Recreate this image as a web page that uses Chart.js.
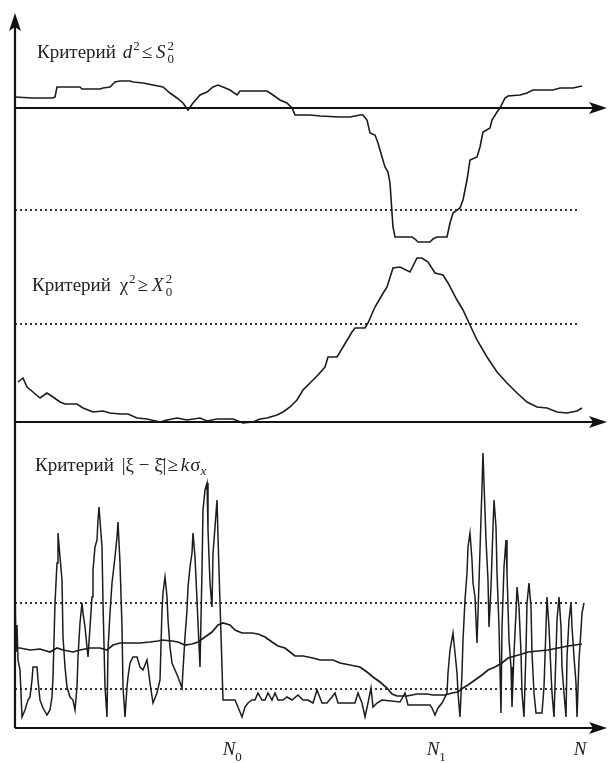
<!DOCTYPE html>
<html lang="ru">
<head>
<meta charset="UTF-8">
<title>Критерии</title>
<script src="https://cdn.jsdelivr.net/npm/chart.js"></script>
<style>
  html, body { margin: 0; padding: 0; background: #fff; }
  #wrap { width: 609px; height: 763px; }
</style>
</head>
<body>
<div id="wrap"><canvas id="chart"></canvas></div>
<script>
// x runs from 0 to N (=567), readings taken off the figure
const tickValues = [214, 418, 565];
const tickSubs = ['0', '1', ''];

// criterion d^2 <= S0^2 (top panel, 0 = axis)
const topX = [0,17,38,40,42,65,67,85,88,95,100,105,115,118,128,138,148,155,162,168,173,178,185,192,198,203,208,215,222,225,252,258,265,272,277,280,295,305,325,335,345,348,352,355,360,363,367,370,373,375,377,378,380,397,400,403,415,418,422,432,435,438,445,448,452,455,462,465,468,475,477,482,485,490,493,505,512,518,538,545,558,567];
const topY = [11,10,10,11,21,21,19,19,20,21,26,27,27,26,25,23,21,15,10,5,-2,5,13,16,21,23,21,18,13,17,17,13,8,5,0,-7,-7,-8,-9,-9,-7,-7,-12,-25,-27,-35,-49,-59,-64,-75,-105,-119,-129,-129,-131,-134,-134,-131,-129,-129,-115,-105,-100,-92,-72,-52,-49,-39,-24,-20,-12,-4,0,10,12,13,15,18,18,20,20,22];
const topLimit = -102;

// criterion chi^2 >= X0^2 (middle panel)
const midX = [3,8,12,18,25,32,38,45,50,62,68,78,88,95,105,113,122,132,145,152,162,172,185,192,202,218,228,238,245,252,262,268,275,282,288,295,303,310,313,322,328,337,340,350,353,360,367,372,378,385,395,402,407,413,420,428,433,442,448,455,462,472,482,492,502,512,522,532,542,552,562,567];
const midY = [40,44,35,30,24,29,25,20,18,18,14,10,11,9,8,8,4,3,0,2,4,2,4,1,3,3,-1,0,3,4,7,10,15,22,32,39,47,55,65,65,75,90,94,94,99,115,127,135,154,155,150,164,164,160,149,147,139,122,112,97,82,65,50,39,29,20,15,14,10,9,11,14];
const midLimit = 98;

// criterion |xi - mean| >= k*sigma (bottom panel): raw signal
const noiseX = [
  0,1,2,3,5,7,10,13,15,17,
  18,22,23,25,28,32,35,37,38,40,
  42,43,45,47,48,50,52,55,58,60,
  62,63,65,67,68,70,72,73,75,77,
  78,80,82,83,84,87,88,90,92,93,
  95,97,100,102,103,105,107,108,110,112,
  113,115,118,122,125,128,132,133,135,138,
  142,145,147,148,150,152,153,155,157,160,
  163,167,168,170,172,173,175,177,178,180,
  182,183,185,187,188,190,192,193,195,197,
  198,200,202,203,205,207,208,220,223,227,
  230,233,237,240,243,247,250,253,257,260,
  263,268,272,277,283,288,293,298,302,307,
  312,317,320,323,340,343,347,350,353,356,
  358,362,367,385,390,393,415,417,420,423,
  427,432,433,435,438,440,442,443,445,447,
  448,450,452,453,455,457,458,460,462,463,
  465,467,468,469,471,473,474,476,478,479,
  481,482,484,486,487,489,491,492,494,496,
  497,499,501,502,504,506,507,509,511,512,
  514,516,517,519,521,527,529,531,532,534,
  536,537,539,541,542,544,546,547,549,551,
  552,554,556,557,559,561,562,564,566,567,569];
const noiseY = [
  145,76,103,68,58,11,18,28,31,48,
  61,61,48,28,20,13,18,31,51,125,
  165,195,171,148,91,61,41,31,28,18,
  41,71,105,125,115,101,81,71,101,131,
  158,181,188,208,221,181,125,41,11,78,
  115,145,171,191,206,165,101,41,11,41,
  51,65,71,71,61,58,68,61,45,25,
  35,48,118,135,151,131,108,81,65,58,
  51,40,58,91,118,141,161,175,195,171,
  128,105,61,158,218,238,245,198,145,121,
  175,201,228,191,125,61,28,28,21,11,
  21,25,28,28,35,28,28,35,28,35,
  28,28,31,28,33,28,28,25,38,25,
  25,31,35,25,25,35,25,11,25,40,
  21,25,28,26,35,23,23,20,13,20,
  25,35,55,78,95,75,55,35,11,55,
  88,128,155,181,195,168,145,131,85,115,
  178,241,275,245,188,148,101,141,201,228,
  201,155,101,15,101,161,188,155,88,61,
  21,75,115,141,121,75,35,11,78,125,
  145,121,75,35,15,15,41,101,131,101,
  55,35,11,75,108,131,101,61,35,11,
  71,108,125,101,71,45,11,68,98,115,125];
// running mean of the signal
const trendX = [0,5,15,25,35,42,48,58,65,75,85,92,98,105,115,125,135,143,147,157,163,170,177,183,190,197,203,208,215,220,227,237,243,250,257,263,270,275,280,288,298,305,318,325,335,345,352,358,365,372,377,382,392,402,412,418,430,437,443,448,453,460,467,473,480,487,493,500,507,513,523,533,543,553,560,567];
const trendY = [80,80,78,79,76,80,78,76,78,80,80,78,83,85,85,85,86,87,88,87,86,83,84,86,91,96,103,105,103,98,95,95,94,91,86,82,80,76,72,72,70,68,68,65,63,61,56,51,46,40,34,32,32,34,34,33,33,35,36,40,43,48,53,58,61,65,70,72,74,76,77,78,80,82,83,84];
const botLimits = [125, 39];
const limitEnd = 563;

const pts = (xs, ys) => xs.map((x, i) => ({ x: x, y: ys[i] }));
const hline = (v) => [{ x: 0, y: v }, { x: limitEnd, y: v }];

const INK = '#1c1c1c';
const curve = (data, axis, w) => ({
  data: data, yAxisID: axis, borderColor: INK, borderWidth: w || 1.6,
  pointRadius: 0, tension: 0, fill: false
});
const dotted = (data, axis) => ({
  data: data, yAxisID: axis, borderColor: '#333', borderWidth: 1.8,
  borderDash: [2, 3], pointRadius: 0, fill: false
});

const SERIF = '"Liberation Serif", "DejaVu Serif", serif';
const R = '19px ' + SERIF;
const I = 'italic 19px ' + SERIF;
const SM = '13px ' + SERIF;
const SMI = 'italic 13px ' + SERIF;

function rich(ctx, x, y, parts) {
  ctx.textBaseline = 'alphabetic';
  ctx.textAlign = 'left';
  for (const p of parts) {
    if (p.pair) {
      ctx.font = SM;
      const w = Math.max(ctx.measureText(p.pair[0]).width, ctx.measureText(p.pair[1]).width);
      ctx.fillText(p.pair[0], x + 2, y - 8);
      ctx.fillText(p.pair[1], x + 2, y + 5);
      x += w + 3;
    } else {
      ctx.font = p.f;
      ctx.fillText(p.t, x, y + (p.dy || 0));
      x += ctx.measureText(p.t).width + (p.gap || 0);
    }
  }
}

const labels = [
  { x: 37, y: 58, parts: [
    { t: 'Критерий ', f: R, gap: 2 }, { t: 'd', f: I, gap: 1 }, { t: '2', f: SM, dy: -8, gap: 2 },
    { t: '≤', f: R, gap: 4 }, { t: 'S', f: I }, { pair: ['2', '0'] }] },
  { x: 32, y: 291, parts: [
    { t: 'Критерий ', f: R, gap: 4 }, { t: 'χ', f: R, gap: 1 }, { t: '2', f: SM, dy: -8, gap: 2 },
    { t: '≥', f: R, gap: 4 }, { t: 'X', f: I }, { pair: ['2', '0'] }] },
  { x: 35, y: 471, parts: [
    { t: 'Критерий ', f: R, gap: 3 }, { t: '|ξ − ξ̄|', f: R, gap: 1 }, { t: '≥', f: R, gap: 3 },
    { t: 'k', f: I, gap: 1 }, { t: 'σ', f: R }, { t: 'x', f: SMI, dy: 4 }] }
];

function arrowRight(ctx, x, y) {
  ctx.beginPath();
  ctx.moveTo(x, y);
  ctx.lineTo(x - 18, y - 6);
  ctx.lineTo(x - 14, y);
  ctx.lineTo(x - 18, y + 6);
  ctx.closePath();
  ctx.fill();
}

const axesPlugin = {
  id: 'axes',
  afterDatasetsDraw(chart) {
    const { ctx, chartArea: a, scales } = chart;
    ctx.save();
    ctx.strokeStyle = '#111';
    ctx.fillStyle = '#111';
    ctx.lineWidth = 2.2;
    // vertical axis with arrow
    ctx.beginPath();
    ctx.moveTo(a.left, a.bottom);
    ctx.lineTo(a.left, a.top + 10);
    ctx.stroke();
    ctx.beginPath();
    ctx.moveTo(a.left, a.top);
    ctx.lineTo(a.left - 6, a.top + 18);
    ctx.lineTo(a.left, a.top + 14);
    ctx.lineTo(a.left + 6, a.top + 18);
    ctx.closePath();
    ctx.fill();
    // horizontal axes
    ['yTop', 'yMid', 'yBot'].forEach(id => {
      const y = Math.round(scales[id].getPixelForValue(0));
      ctx.beginPath();
      ctx.moveTo(a.left, y);
      ctx.lineTo(a.right - 10, y);
      ctx.stroke();
      arrowRight(ctx, a.right, y);
    });
    // panel captions
    ctx.fillStyle = '#222';
    labels.forEach(l => rich(ctx, l.x, l.y, l.parts));
    // N ticks
    const xs = scales.x;
    tickValues.forEach((v, i) => {
      const px = xs.getPixelForValue(v);
      ctx.font = 'italic 19px ' + SERIF;
      ctx.textAlign = 'center';
      ctx.fillText('N', px, a.bottom + 27);
      const w = ctx.measureText('N').width;
      ctx.font = '13px ' + SERIF;
      ctx.textAlign = 'left';
      ctx.fillText(tickSubs[i], px + w / 2, a.bottom + 33);
    });
    ctx.restore();
  }
};

new Chart(document.getElementById('chart'), {
  type: 'line',
  data: {
    datasets: [
      curve(pts(topX, topY), 'yTop'),
      dotted(hline(topLimit), 'yTop'),
      curve(pts(midX, midY), 'yMid'),
      dotted(hline(midLimit), 'yMid'),
      curve(pts(noiseX, noiseY), 'yBot', 1.5),
      curve(pts(trendX, trendY), 'yBot', 1.7),
      dotted(hline(botLimits[0]), 'yBot'),
      dotted(hline(botLimits[1]), 'yBot')
    ]
  },
  options: {
    responsive: true,
    maintainAspectRatio: false,
    animation: false,
    layout: { padding: { top: 13, left: 15, right: 2, bottom: 35 } },
    plugins: { legend: { display: false }, tooltip: { enabled: false } },
    scales: {
      x: { type: 'linear', min: 0, max: 592, display: false },
      yBot: { type: 'linear', position: 'left', stack: 'panels', stackWeight: 298, min: 0, max: 298, display: false },
      yMid: { type: 'linear', position: 'left', stack: 'panels', stackWeight: 180, min: -8, max: 172, display: false },
      yTop: { type: 'linear', position: 'left', stack: 'panels', stackWeight: 237, min: -142, max: 95, display: false }
    }
  },
  plugins: [axesPlugin]
});
</script>
</body>
</html>
